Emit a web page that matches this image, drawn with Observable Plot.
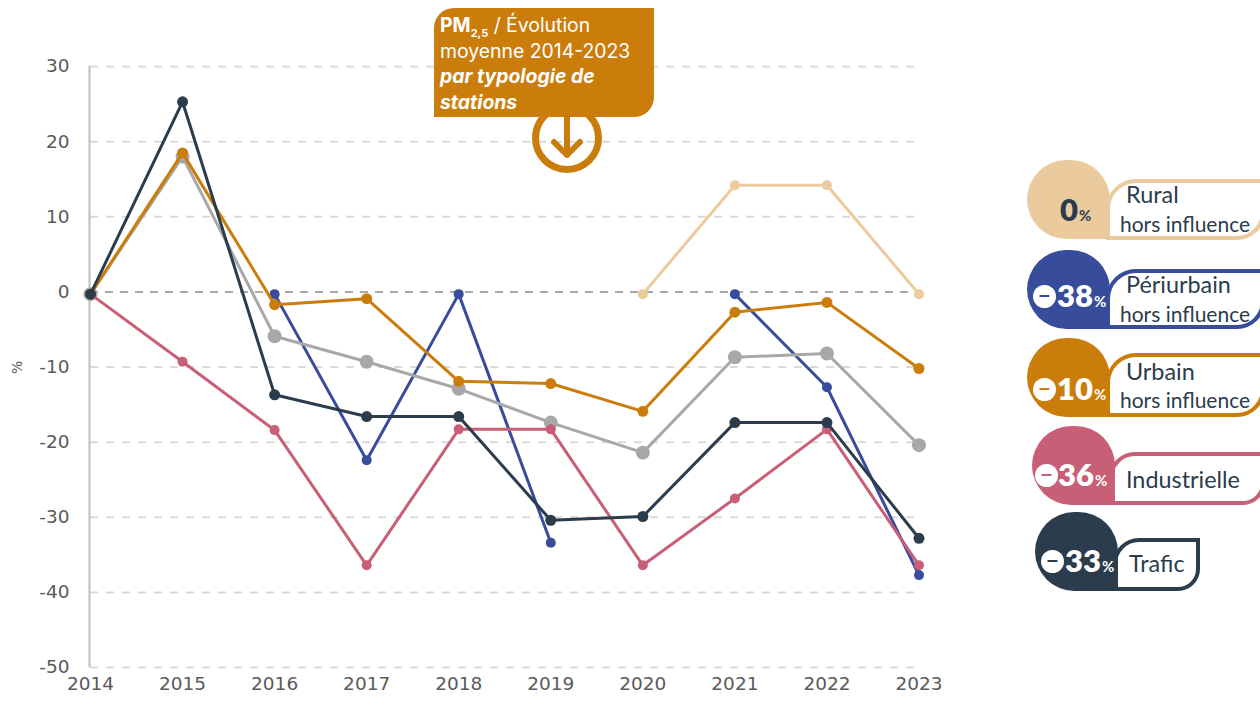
<!DOCTYPE html>
<html lang="fr"><head><meta charset="utf-8">
<script src="https://cdn.jsdelivr.net/npm/d3@7"></script>
<script src="https://cdn.jsdelivr.net/npm/@observablehq/plot@0.6"></script>
<style>
html,body{margin:0;padding:0;background:#fff;overflow:hidden}
#root{position:relative;width:1260px;height:705px;overflow:hidden}
#chart{position:absolute;left:0;top:0}
#callout{position:absolute;left:434px;top:8px;width:220px;height:109px;background:#CB7D0C;border-radius:20px 0 20px 0;color:#fff;font:400 19.4px/25.5px Inter,sans-serif;padding:5px 0 0 6px;box-sizing:border-box;white-space:nowrap;z-index:2}
#callout sub{font-size:11px;font-weight:700;line-height:0}
#callout b{font-weight:700}
#arrow{position:absolute;left:528px;top:99px;z-index:1}
.bubble{position:absolute;width:83px;height:79px;border-radius:42px 42px 0 42px;z-index:2}
.box{position:absolute;background:#fff;border:4px solid;box-sizing:border-box;border-radius:30px 0 28px 0;color:#2B3C4C;font:400 21px/27px Lato,sans-serif;white-space:nowrap}
.box span{position:absolute}
.num{position:absolute;font:800 31px/31px Lato,sans-serif;white-space:nowrap}
.pct{font-size:15px;font-weight:700;margin-left:1px}
.minus{position:absolute;width:23px;height:23px;border-radius:50%;background:#fff;text-align:center;font:700 22px/21px Lato,sans-serif}
</style></head><body>
<div id="root"><div id="chart"></div>
<div id="callout"><b>PM<sub>2,5</sub></b> / Évolution<br>moyenne 2014-2023<br><b><i>par typologie de<br>stations</i></b></div>
<svg id="arrow" width="80" height="80" viewBox="0 0 80 80" fill="none" stroke="#CB7D0C"><circle cx="39" cy="39" r="31.5" stroke-width="7"/><path d="M39 10V56M26 43L39 56L52 43" stroke-width="6" stroke-linecap="round" stroke-linejoin="round"/></svg>
</div>
<script>
const years = [2014,2015,2016,2017,2018,2019,2020,2021,2022,2023];
const rural = [null,null,null,null,null,null,-0.3,14.2,14.2,-0.3];
const periurbain = [null,null,-0.3,-22.4,-0.3,-33.4,null,-0.3,-12.7,-37.7];
const moyenne = [-0.3,18,-5.9,-9.3,-12.9,-17.4,-21.4,-8.7,-8.2,-20.4];
const urbain = [-0.3,18.5,-1.7,-0.9,-11.9,-12.2,-15.9,-2.7,-1.4,-10.2];
const industrielle = [-0.3,-9.3,-18.4,-36.4,-18.3,-18.3,-36.4,-27.5,-18.3,-36.4];
const trafic = [-0.3,25.3,-13.7,-16.6,-16.6,-30.4,-29.9,-17.4,-17.4,-32.8];
const yTicks = [30,20,10,-10,-20,-30,-40,-50];

const seriesList = [
  {values:rural,color:"#EBCB9E",w:3,r:5},
  {values:periurbain,color:"#374D9C",w:3,r:5},
  {values:moyenne,color:"#A8A8A8",w:3,r:7},
  {values:urbain,color:"#CB7D0C",w:3,r:5.5},
  {values:industrielle,color:"#C85F76",w:3,r:5},
  {values:trafic,color:"#2B3C4C",w:3,r:5.5}
];
const marks = [
  Plot.ruleY(yTicks,{stroke:"#D9D9D9",strokeWidth:2,strokeDasharray:"8 8"}),
  Plot.ruleY([0],{stroke:"#A8A8A8",strokeWidth:2,strokeDasharray:"8 7"}),
  Plot.ruleX([2014],{dx:-1,stroke:"#BDBDBD",strokeWidth:2})
];
for (const s of seriesList) {
  const rows = years.map((x,i)=>({x,y:s.values[i]}));
  const have = rows.filter(d=>d.y!==null);
  marks.push(Plot.line(rows,{x:"x",y:"y",z:null,defined:d=>d.y!==null,stroke:s.color,strokeWidth:s.w,curve:"linear"}));
  marks.push(Plot.dot(have,{x:"x",y:"y",fill:s.color,r:s.r,stroke:"none"}));
}
const chart = Plot.plot({
  width:1260,height:705,marginLeft:90,marginRight:341.5,marginTop:66,marginBottom:38,
  style:{fontFamily:"'DejaVu Sans',sans-serif",fontSize:"18.5px",color:"#5A5A5A",background:"transparent"},
  x:{domain:[2014,2023],ticks:years,tickFormat:d=>String(d),tickSize:0,tickPadding:9,label:null,axis:"bottom"},
  y:{domain:[-50,30],ticks:[...yTicks,0],tickFormat:d=>d<0?"-"+(-d):String(d),tickSize:0,tickPadding:21,label:null},
  marks:[...marks,
    Plot.text(["%"],{frameAnchor:"left",dx:-73,dy:7,rotate:-90,fontSize:14,fill:"#5A5A5A"})
  ]
});
document.getElementById("chart").append(chart);

const legendNames = [["Rural","hors influence"],["Périurbain","hors influence"],["Urbain","hors influence"],["Industrielle"],["Trafic"]];
const legendValues = ["0","38","10","36","33"];
const legendMinus = [false,true,true,true,true];
const legendColors = ["#EBCB9E","#374D9C","#CB7D0C","#C85F76","#2B3C4C"];
const legendBubble = [[1027,160],[1027,250],[1027,338],[1032,426],[1035,512]];
const legendBox = [[1106,179,159,61],[1106,269,159,60],[1106,353,159,64],[1109,452,156,53],[1113,538,87,53]];
const root = document.getElementById("root");
legendNames.forEach((names,i)=>{
  const [bx,by]=legendBubble[i],[x,y,w,h]=legendBox[i],c=legendColors[i];
  const box=document.createElement("div");box.className="box";
  Object.assign(box.style,{left:x+"px",top:y+"px",width:w+"px",height:h+"px",borderColor:c});
  if(i>=3) box.style.borderRadius="26px 0 22px 0";
  names.forEach((n,j)=>{
    const sp=document.createElement("span");sp.textContent=n;
    const two=names.length===2;
    if(j===0) sp.style.fontSize="23.4px";
    sp.style.left=(two?(j===0?16:10):(i===4?12:13))+"px";
    sp.style.top=(two?(j===0?(y===353?1:-2):(y===353?29:27)):(i===4?8:10))+"px";
    box.append(sp);
  });
  root.append(box);
  const b=document.createElement("div");b.className="bubble";
  Object.assign(b.style,{left:bx+"px",top:by+"px",background:c});
  const n=document.createElement("div");n.className="num";
  n.style.color=i===0?"#2B3C4C":"#fff";
  n.innerHTML=legendValues[i]+'<span class="pct">%</span>';
  n.style.left=(i===0?33:(i===4?30:(i===3?26:30)))+"px";
  n.style.top=(i===0?34:(i===3?33:(i===4?33:(i===2?35:30))))+"px";
  b.append(n);
  if(legendMinus[i]){
    const m=document.createElement("div");m.className="minus";m.textContent="−";m.style.color=c;
    m.style.left=(i===4?6:(i===3?3:6))+"px";
    m.style.top=(i===3||i===4?38:(i===2?40:35))+"px";
    b.append(m);
  }
  root.append(b);
});
</script></body></html>
